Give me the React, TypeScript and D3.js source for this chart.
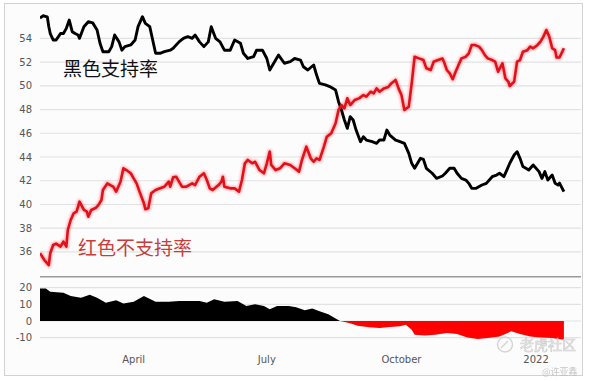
import React from 'react';
import * as d3 from 'd3';

const START = new Date(2021, 0, 27);
const END = new Date(2022, 0, 31);

// [day offset from START, value]
const approve: [number, number][] = [
  [0,55.7],[2,55.9],[5,55.8],[6,55.0],[7,54.4],[9,53.86],[11,53.86],[14,54.4],[16,54.4],[18,54.84],
  [20,55.54],[22,54.56],[24,54.4],[26,54.28],[27,54.0],[30,54.98],[33,55.4],[36,55.3],[39,54.7],[41,53.58],
  [43,52.87],[47,52.87],[49,53.3],[51,54.28],[54,53.7],[56,53.0],[58,53.3],[62,53.44],[65,53.86],[67,54.98],
  [70,55.82],[72,55.26],[75,54.98],[77,53.86],[79,52.74],[82,52.74],[85,52.87],[89,53.0],[91,53.16],[95,53.7],
  [98,54.0],[101,54.14],[104,54.0],[106,54.28],[109,53.7],[112,53.3],[115,53.7],[117,54.98],[120,54.0],[123,53.7],
  [126,53.0],[130,53.0],[133,53.86],[137,53.58],[139,52.74],[142,52.3],[146,52.45],[148,53.0],[152,53.0],[155,52.3],
  [157,51.33],[161,52.17],[163,52.59],[167,51.9],[171,52.03],[174,52.3],[178,52.17],[180,51.6],[183,51.33],[187,51.75],
  [189,50.9],[191,50.2],[195,50.07],[198,49.93],[202,49.64],[204,48.66],[206,47.96],[208,47.12],[210,46.42],[212,47.4],
  [214,47.12],[216,46.27],[219,45.29],[221,45.71],[223,45.43],[227,45.29],[230,45.15],[232,45.43],[235,45.43],[237,46.27],
  [239,45.85],[243,45.43],[246,45.29],[249,45.15],[252,44.3],[254,43.47],[256,43.05],[260,43.89],[262,43.8],[264,43.05],
  [268,42.63],[271,42.2],[275,42.4],[277,42.63],[280,43.05],[283,43.05],[285,42.63],[288,42.2],[291,42.06],[293,41.78],
  [295,41.36],[298,41.36],[302,41.64],[305,41.78],[309,42.34],[312,42.48],[314,42.63],[317,42.34],[319,42.9],[321,43.47],
  [324,44.17],[326,44.45],[328,43.89],[330,43.19],[334,42.9],[337,43.33],[341,42.77],[343,42.2],[345,42.77],[347,42.06],
  [350,42.48],[352,41.78],[354,41.64],[355,41.8],[358,41.08]
];

const disapprove: [number, number][] = [
  [0,35.9],[3,35.32],[6,34.9],[7,35.89],[9,36.59],[11,36.7],[14,36.45],[16,36.87],[18,36.45],[19,37.85],
  [21,38.7],[23,39.26],[25,39.4],[27,40.24],[30,39.54],[32,39.4],[33,38.97],[35,39.54],[38,39.7],[40,39.96],
  [42,40.38],[43,41.22],[46,41.78],[48,41.64],[50,41.5],[52,41.08],[55,41.92],[57,43.05],[59,42.9],[62,42.63],
  [64,42.2],[66,41.78],[68,41.08],[71,40.1],[72,39.6],[74,39.68],[76,40.94],[79,41.22],[82,41.36],[85,41.5],
  [88,41.92],[89,41.5],[91,42.3],[93,42.34],[97,41.5],[100,41.5],[104,41.78],[106,41.64],[109,42.34],[112,42.63],
  [114,42.06],[116,41.36],[118,41.22],[122,41.64],[124,41.92],[125,42.34],[126,41.5],[130,41.36],[133,41.36],[136,41.08],
  [138,42.06],[140,43.47],[142,43.75],[145,43.47],[147,43.6],[150,42.9],[153,42.63],[155,43.47],[157,44.45],[158,43.33],
  [161,42.9],[164,43.05],[167,43.47],[171,43.33],[174,43.05],[177,42.77],[179,43.75],[182,44.87],[185,43.89],[187,43.6],
  [189,43.89],[191,43.75],[194,44.87],[196,45.71],[199,46.0],[202,46.84],[204,47.96],[206,48.38],[208,48.1],[210,48.94],
  [212,48.38],[215,48.8],[218,48.94],[221,49.22],[223,49.08],[226,49.5],[228,49.36],[230,49.78],[232,49.5],[235,49.78],
  [238,49.9],[240,50.2],[243,50.49],[245,49.78],[247,49.22],[249,47.96],[252,48.24],[254,50.2],[256,52.45],[259,52.31],
  [262,52.17],[264,51.47],[267,51.33],[269,52.03],[272,52.17],[275,52.3],[276,52.03],[278,51.33],[280,51.05],[282,50.55],
  [284,51.19],[286,51.75],[288,52.31],[291,52.45],[293,52.73],[295,53.44],[297,53.44],[300,53.3],[302,53.0],[304,52.59],
  [306,52.31],[309,52.17],[311,52.03],[313,51.19],[316,51.89],[318,50.63],[320,50.35],[321,49.98],[324,50.35],[326,52.03],
  [328,52.17],[330,52.87],[333,53.0],[335,53.3],[337,53.16],[340,53.44],[342,53.72],[344,54.14],[346,54.7],[348,54.14],
  [350,53.16],[352,53.0],[353,52.38],[355,52.38],[358,53.16]
];

const net: [number, number][] = [
  [0,19.5],[4,19.5],[7,17.5],[16,17],[21,15],[28,14],[34,15.8],[39,14],[45,11],[52,12.5],
  [57,10.5],[64,11.5],[71,15],[79,11.5],[88,11.5],[95,12],[109,12],[114,11],[119,13],[126,11.5],
  [135,12],[141,9],[147,10],[153,9],[157,7],[162,9],[170,9],[175,8.3],[181,6.5],[186,7.5],
  [192,5.5],[197,4],[202,1.5],[205,0],[209,-0.8],[213,-1.6],[217,-2.8],[225,-3.8],[232,-4.2],[239,-3.6],
  [246,-3.2],[250,-2.2],[254,-5.2],[256,-8.2],[263,-8.6],[270,-8.2],[278,-7.2],[285,-7.8],[292,-9.8],[299,-10.8],
  [306,-10.2],[314,-9.2],[322,-6.2],[328,-7.8],[335,-9.2],[342,-9.8],[350,-10.2],[354,-10.8],[358,-11.2]
];

const topTicks = [36, 38, 40, 42, 44, 46, 48, 50, 52, 54];
const netTicks = [20, 10, 0, -10];
const approveLabel = '黑色支持率';
const disapproveLabel = '红色不支持率';
const watermark = '老虎社区';
const author = '@许亚鑫';

export default function App() {
  const W = 590, H = 381;
  const L = 40, R = 581;
  const x = d3.scaleTime().domain([START, END]).range([40, 580]);
  const yTop = d3.scaleLinear().domain([34, 57]).range([275.7, 2.7]);
  const yNet = d3.scaleLinear().domain([-14, 26]).range([344.4, 277.6]);
  const toDate = (d: number) => d3.timeDay.offset(START, d);

  const line = d3.line<[number, number]>()
    .x(p => x(toDate(p[0])))
    .y(p => yTop(p[1]))
    .curve(d3.curveLinear);
  const areaPos = d3.area<[number, number]>()
    .x(p => x(toDate(p[0])))
    .y0(yNet(0))
    .y1(p => yNet(Math.max(0, p[1])));
  const areaNeg = d3.area<[number, number]>()
    .x(p => x(toDate(p[0])))
    .y0(yNet(0))
    .y1(p => yNet(Math.min(0, p[1])));

  const xTicks = x.ticks(d3.timeMonth.every(3) as any);
  const fmt = x.tickFormat();
  const numFont = '"DejaVu Sans", Verdana, sans-serif';
  const cjk = '"Noto Sans CJK SC", sans-serif';

  return (
    <svg width={W} height={H} style={{ position: 'absolute', left: 0, top: 0, background: '#fff' }}>
      <defs>
        <clipPath id="topclip">
          <rect x={L} y={3} width={R - L} height={273.5} />
        </clipPath>
        <filter id="glow" x="-5%" y="-5%" width="110%" height="110%">
          <feGaussianBlur stdDeviation="1.2" />
        </filter>
      </defs>
      <rect x={4.5} y={3.5} width={578} height={372} fill="#fcfcfd" stroke="#d2d2d2" />

      {topTicks.map(t => (
        <g key={'t' + t}>
          <line x1={L} x2={R} y1={yTop(t)} y2={yTop(t)} stroke="#e2e2e4" strokeWidth={1.2} />
          <text x={32} y={yTop(t)} dy="0.35em" textAnchor="end" fontFamily={numFont} fontSize={10} fill="#555">{t}</text>
        </g>
      ))}
      {netTicks.map(t => (
        <g key={'n' + t}>
          <line x1={L} x2={R} y1={yNet(t)} y2={yNet(t)} stroke="#e2e2e4" strokeWidth={1.2} />
          <text x={32} y={yNet(t)} dy="0.35em" textAnchor="end" fontFamily={numFont} fontSize={10} fill="#555">{t}</text>
        </g>
      ))}

      <g clipPath="url(#topclip)">
        <path d={line(disapprove) || ''} fill="none" stroke="#ff5a5a" strokeWidth={5} opacity={0.45} filter="url(#glow)" strokeLinejoin="round" />
        <path d={line(approve) || ''} fill="none" stroke="#000" strokeWidth={2.9} strokeLinejoin="round" />
        <path d={line(disapprove) || ''} fill="none" stroke="#e2101a" strokeWidth={2.6} strokeLinejoin="round" />
      </g>

      <line x1={L} x2={R} y1={276.8} y2={276.8} stroke="#9a9a9a" strokeWidth={1.5} />

      <path d={areaPos(net) || ''} fill="#000" />
      <path d={areaNeg(net) || ''} fill="#ff0000" />

      {xTicks.map((t, i) => (
        <text key={'x' + i} x={x(t)} y={363} textAnchor="middle" fontFamily={numFont} fontSize={10} fill="#555">{fmt(t)}</text>
      ))}

      <text x={63} y={76} fontFamily={cjk} fontSize={19} fill="#111">{approveLabel}</text>
      <text x={78} y={255} fontFamily={cjk} fontSize={19} fill="#c83c3c">{disapproveLabel}</text>

      <g opacity={0.85}>
        <circle cx={505} cy={344.5} r={7.5} fill="none" stroke="#cfcfcf" strokeWidth={1.5} />
        <path d="M501,348 L508,341" stroke="#cfcfcf" strokeWidth={1.5} />
        <text x={520} y={350} fontFamily={cjk} fontSize={14} fill="#eeeeee" stroke="#c4c4c4" strokeWidth={0.6}>{watermark}</text>
        <text x={542} y={374.5} fontFamily={cjk} fontSize={9} fill="#bdbdbd">{author}</text>
      </g>
    </svg>
  );
}
